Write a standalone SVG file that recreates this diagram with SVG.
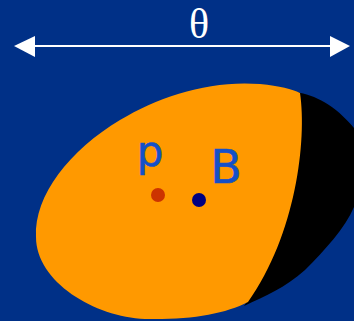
<svg xmlns="http://www.w3.org/2000/svg" width="354" height="321" viewBox="0 0 354 321">
<style>
.lbl{font-family:"DejaVu Sans",sans-serif;fill:#1450c8;stroke:#1450c8;stroke-width:0.6;}
.white{fill:#ffffff;}
</style>
<rect x="0" y="0" width="354" height="321" fill="#003087"/>
<g id="shadow">
<path d="M 296 92 C 315 95 335 105 354 128 L 354 207 C 345 228 325 250 305 270 C 285 288 265 296 244 306 C 272 270 306 170 296 92 Z" fill="#000000"/>
</g>
<g id="body">
<path d="M 300 93 C 307 140 296 235 248 302 C 225 314 190 320 145 319 C 95 317 36 282 36 237 C 34 195 70 150 120 120 C 160 96 210 80 260 84 C 280 86 292 89 300 93 Z" fill="#ff9900"/>
</g>
<g id="connectors">
<line x1="30" y1="46" x2="334" y2="46" stroke="#ffffff" stroke-width="2"/>
<polygon class="white" points="14,46 35,36 35,57"/>
<polygon class="white" points="350,46 330,36 330,57"/>
</g>
<g id="theta">
<text x="199" y="38" font-family="'Liberation Serif',serif" font-size="42" fill="#ffffff" text-anchor="middle">θ</text>
</g>
<g id="p">
<text class="lbl" x="150" y="166" font-size="42" text-anchor="middle">p</text>
<circle cx="158" cy="195" r="7" fill="#cc3300"/>
</g>
<g id="B">
<text class="lbl" x="226" y="183" font-size="46" text-anchor="middle">B</text>
<circle cx="199" cy="200" r="7" fill="#000080"/>
</g>
</svg>
